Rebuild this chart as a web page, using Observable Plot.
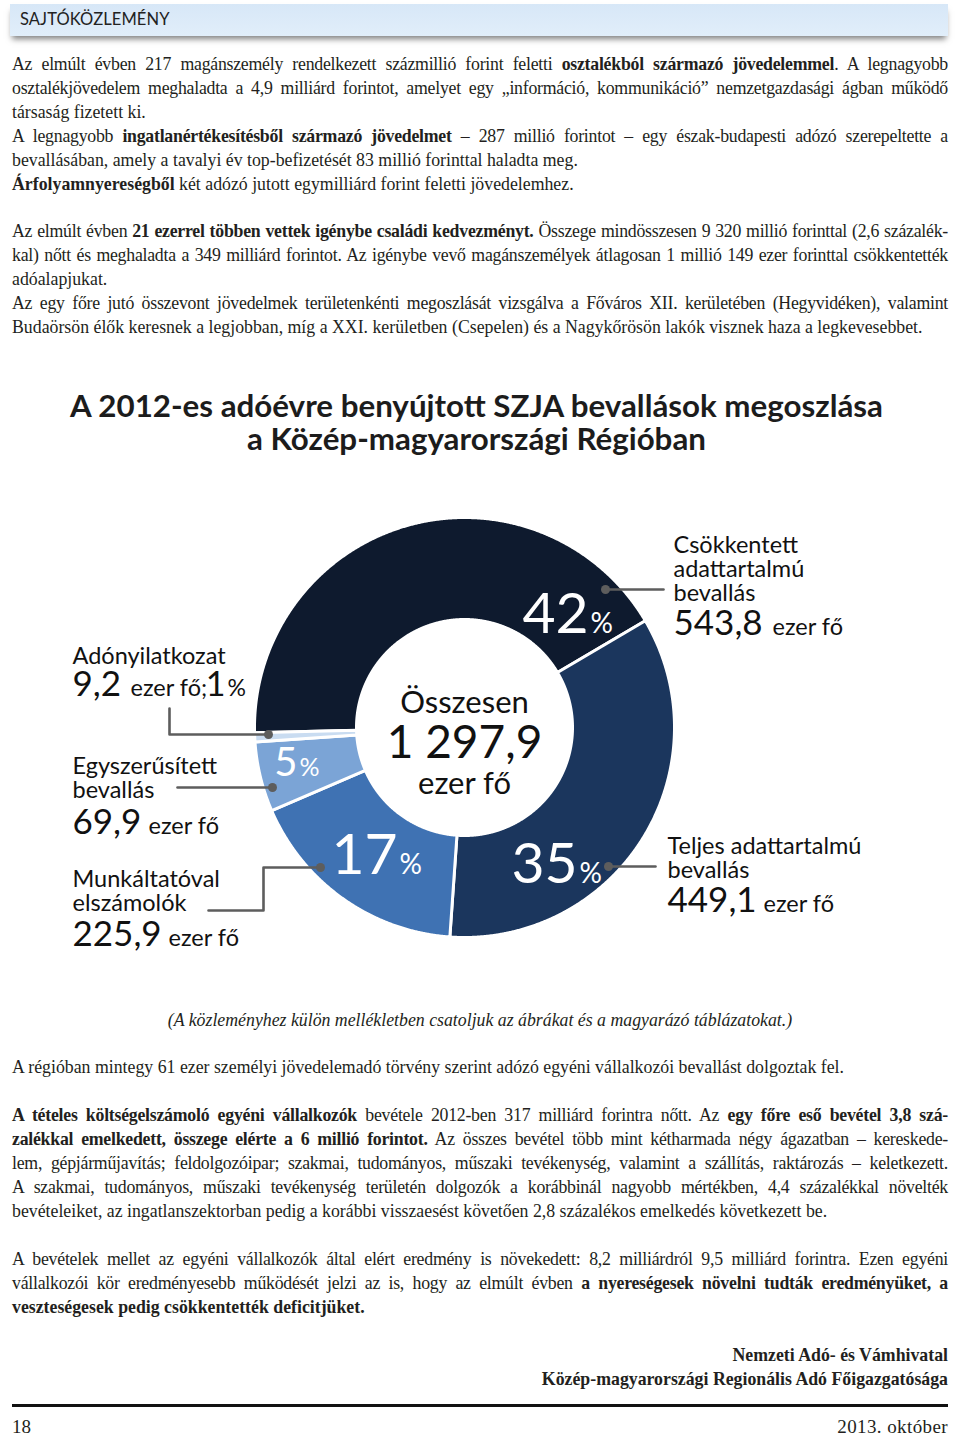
<!DOCTYPE html>
<html lang="hu">
<head>
<meta charset="utf-8">
<script src="https://cdn.jsdelivr.net/npm/d3@7"></script>
<script src="https://cdn.jsdelivr.net/npm/@observablehq/plot@0.6"></script>
<style>
  html, body { margin: 0; padding: 0; background: #fff; }
  #page { position: relative; width: 960px; height: 1436px; overflow: hidden; color: #231f20; }
  .hdr { position: absolute; left: 10px; top: 4px; width: 938px; height: 32px;
         background: linear-gradient(#d7e7f7, #e1eefa); box-shadow: 0 5px 6px -2px rgba(0,0,0,0.5); }
  .hdr span { position: absolute; left: 10px; top: 5px; font-family: Lato, sans-serif; font-size: 16.5px; color: #222; letter-spacing: 0.1px; }
  .blk { position: absolute; left: 12px; width: 936px; font-family: "Liberation Serif", serif; font-size: 17.8px; line-height: 24px; }
  .blk div { height: 24px; white-space: nowrap; }
  .blk div.j { text-align: justify; text-align-last: justify; letter-spacing: -0.25px; }
  .blk b { font-weight: bold; }
  .title { position: absolute; left: 0; width: 953px; top: 389px; text-align: center; font-family: Lato, sans-serif;
           font-weight: 700; font-size: 31.3px; line-height: 33px; color: #1c1c1c; }
  .rule { position: absolute; left: 12px; width: 936px; top: 1404px; height: 3px; background: #111; }
  .foot { position: absolute; top: 1414px; font-family: "Liberation Serif", serif; font-size: 19px; line-height: 26px; }
  #chart { position: absolute; left: 0; top: 480px; }
</style>
</head>
<body>
<div id="page">
  <div class="hdr"><span>SAJTÓKÖZLEMÉNY</span></div>

  <div class="blk" style="top:52px">
    <div class="j">Az elmúlt évben 217 magánszemély rendelkezett százmillió forint feletti <b>osztalékból származó jövedelemmel</b>. A legnagyobb</div>
    <div class="j">osztalékjövedelem meghaladta a 4,9 milliárd forintot, amelyet egy „információ, kommunikáció” nemzetgazdasági ágban működő</div>
    <div>társaság fizetett ki.</div>
    <div class="j">A legnagyobb <b>ingatlanértékesítésből származó jövedelmet</b> – 287 millió forintot – egy észak-budapesti adózó szerepeltette a</div>
    <div>bevallásában, amely a tavalyi év top-befizetését 83 millió forinttal haladta meg.</div>
    <div><b>Árfolyamnyereségből</b> két adózó jutott egymilliárd forint feletti jövedelemhez.</div>
  </div>

  <div class="blk" style="top:219px">
    <div class="j">Az elmúlt évben <b>21 ezerrel többen vettek igénybe családi kedvezményt.</b> Összege mindösszesen 9 320 millió forinttal (2,6 százalék-</div>
    <div class="j">kal) nőtt és meghaladta a 349 milliárd forintot. Az igénybe vevő magánszemélyek átlagosan 1 millió 149 ezer forinttal csökkentették</div>
    <div>adóalapjukat.</div>
    <div class="j">Az egy főre jutó összevont jövedelmek területenkénti megoszlását vizsgálva a Főváros XII. kerületében (Hegyvidéken), valamint</div>
    <div>Budaörsön élők keresnek a legjobban, míg a XXI. kerületben (Csepelen) és a Nagykőrösön lakók visznek haza a legkevesebbet.</div>
  </div>

  <div class="title">A 2012-es adóévre benyújtott SZJA bevallások megoszlása<br>a Közép-magyarországi Régióban</div>

  <div id="chart"></div>

  <div class="blk" style="top:1008px; text-align:center; font-style:italic;">
    <div>(A közleményhez külön mellékletben csatoljuk az ábrákat és a magyarázó táblázatokat.)</div>
  </div>

  <div class="blk" style="top:1055px">
    <div>A régióban mintegy 61 ezer személyi jövedelemadó törvény szerint adózó egyéni vállalkozói bevallást dolgoztak fel.</div>
    <div></div>
    <div class="j"><b>A tételes költségelszámoló egyéni vállalkozók</b> bevétele 2012-ben 317 milliárd forintra nőtt. Az <b>egy főre eső bevétel 3,8 szá-</b></div>
    <div class="j"><b>zalékkal emelkedett, összege elérte a 6 millió forintot.</b> Az összes bevétel több mint kétharmada négy ágazatban – kereskede-</div>
    <div class="j">lem, gépjárműjavítás; feldolgozóipar; szakmai, tudományos, műszaki tevékenység, valamint a szállítás, raktározás – keletkezett.</div>
    <div class="j">A szakmai, tudományos, műszaki tevékenység területén dolgozók a korábbinál nagyobb mértékben, 4,4 százalékkal növelték</div>
    <div>bevételeiket, az ingatlanszektorban pedig a korábbi visszaesést követően 2,8 százalékos emelkedés következett be.</div>
    <div></div>
    <div class="j">A bevételek mellet az egyéni vállalkozók által elért eredmény is növekedett: 8,2 milliárdról 9,5 milliárd forintra. Ezen egyéni</div>
    <div class="j">vállalkozói kör eredményesebb működését jelzi az is, hogy az elmúlt évben <b>a nyereségesek növelni tudták eredményüket, a</b></div>
    <div><b>veszteségesek pedig csökkentették deficitjüket.</b></div>
    <div></div>
    <div style="text-align:right"><b>Nemzeti Adó- és Vámhivatal</b></div>
    <div style="text-align:right"><b>Közép-magyarországi Regionális Adó Főigazgatósága</b></div>
  </div>

  <div class="rule"></div>
  <div class="foot" style="left:12px">18</div>
  <div class="foot" style="right:12px; letter-spacing:0.4px">2013. október</div>
</div>

<script>
// ---------------- DATA ----------------
const categories = [
  "Csökkentett adattartalmú bevallás",
  "Teljes adattartalmú bevallás",
  "Munkáltatóval elszámolók",
  "Egyszerűsített bevallás",
  "Adónyilatkozat"
];
const valuesEzerFo = [543.8, 449.1, 225.9, 69.9, 9.2];
const shareLabels = ["42", "35", "17", "5", "1"];
const labelLines = [
  ["Csökkentett", "adattartalmú", "bevallás"],
  ["Teljes adattartalmú", "bevallás"],
  ["Munkáltatóval", "elszámolók"],
  ["Egyszerűsített", "bevallás"],
  ["Adónyilatkozat"]
];
const totalLines = ["Összesen", "1 297,9", "ezer fő"];
const unitText = "ezer fő";
const sliceColors = ["#0e1a2e", "#1b365d", "#3f72b3", "#7ba4d6", "#c9dcf1"];

// ---------------- LAYOUT (page pixel coordinates) ----------------
const W = 960, H = 500, TOP = 480;
const CX = 464, CY = 727, R_OUT = 210, R_IN = 108;
const START = -91.4 * Math.PI / 180;
const LABEL_SIZE = 23.5, LABEL_LINE = 24;
const labelLayout = [
  {x: 673, lastY: 600, numY: 634, unitX: 772},
  {x: 667, lastY: 877, numY: 911, unitX: 763},
  {x: 72,  lastY: 910, numY: 945, unitX: 168},
  {x: 72,  lastY: 797, numY: 833, unitX: 148},
  {x: 72,  lastY: 663, numY: 695, unitX: 130}
];
const shareLayout = [
  {x: 588, y: 632, size: 57, pct: 28},
  {x: 577, y: 882, size: 57, pct: 28},
  {x: 397, y: 873, size: 57, pct: 28},
  {x: 297, y: 775, size: 40, pct: 25},
  {x: 225, y: 695, size: 34, pct: 23}
];
const leaderLayout = [
  [[605, 589], [663, 589]],
  [[608, 866], [655, 866]],
  [[320, 867], [263, 867], [263, 910], [208, 910]],
  [[272, 787], [177, 787]],
  [[268, 734], [169, 734], [169, 708]]
];
const totalLayout = [{y: 712, size: 31}, {y: 757, size: 46}, {y: 793, size: 31}];

// ---------------- BUILD ----------------
const rows = categories.map((c, i) => ({cat: c, value: valuesEzerFo[i]}));
const slices = d3.pie().sort(null).value(d => d.value)
  .startAngle(START).endAngle(START + 2 * Math.PI)(rows);

const ring = slices.flatMap(s => {
  const n = Math.max(2, Math.ceil((s.endAngle - s.startAngle) / 0.004));
  const pts = [];
  for (let i = 0; i <= n; i++) {
    const a = s.startAngle + (s.endAngle - s.startAngle) * i / n;
    pts.push({cat: s.data.cat, x: CX + R_OUT * Math.sin(a), y: CY - R_OUT * Math.cos(a)});
  }
  for (let i = n; i >= 0; i--) {
    const a = s.startAngle + (s.endAngle - s.startAngle) * i / n;
    pts.push({cat: s.data.cat, x: CX + R_IN * Math.sin(a), y: CY - R_IN * Math.cos(a)});
  }
  return pts;
});

const leaders = leaderLayout.flatMap((pts, i) => pts.map(([x, y]) => ({id: categories[i], x, y})));
const leaderDots = leaderLayout.map((pts, i) => ({id: categories[i], x: pts[0][0], y: pts[0][1]}));

const fmt = v => v.toFixed(1).replace(".", ",");

const catText = labelLines.map((lines, i) => ({text: lines.join("\n"), x: labelLayout[i].x, y: labelLayout[i].lastY}));
const numText = valuesEzerFo.map((v, i) => ({text: fmt(v), x: labelLayout[i].x, y: labelLayout[i].numY, size: 35}));
const unitTextRows = valuesEzerFo.map((v, i) => ({
  text: i === 4 ? unitText + ";" : unitText, x: labelLayout[i].unitX, y: labelLayout[i].numY, size: LABEL_SIZE}));

const shareNum = shareLabels.map((t, i) => ({text: t, x: shareLayout[i].x, y: shareLayout[i].y, size: shareLayout[i].size, white: i < 4}));
const sharePct = shareLabels.map((t, i) => ({text: "%", x: shareLayout[i].x + 2, y: shareLayout[i].y, size: shareLayout[i].pct, white: i < 4}));

const totalText = totalLines.map((t, i) => ({text: t, x: CX, y: totalLayout[i].y, size: totalLayout[i].size}));

const chart = Plot.plot({
  width: W,
  height: H,
  margin: 0,
  style: {fontFamily: "Lato, sans-serif", background: "transparent", overflow: "visible"},
  x: {domain: [0, W], range: [0, W], axis: null},
  y: {domain: [TOP, TOP + H], range: [0, H], axis: null},
  color: {domain: categories, range: sliceColors},
  marks: [
    Plot.line(ring, {x: "x", y: "y", z: "cat", fill: "cat", stroke: "#ffffff", strokeWidth: 3, curve: "linear-closed"}),
    Plot.line(leaders, {x: "x", y: "y", z: "id", stroke: "#5d5d5d", strokeWidth: 2.6}),
    Plot.dot(leaderDots, {x: "x", y: "y", r: 4.5, fill: "#5d5d5d"}),
    Plot.text(catText, {x: "x", y: "y", text: "text", fontSize: LABEL_SIZE, lineHeight: LABEL_LINE / LABEL_SIZE, textAnchor: "start", lineAnchor: "bottom", fill: "#111"}),
    Plot.text(numText, {x: "x", y: "y", text: "text", fontSize: "size", textAnchor: "start", lineAnchor: "bottom", fill: "#111"}),
    Plot.text(unitTextRows, {x: "x", y: "y", text: "text", fontSize: "size", textAnchor: "start", lineAnchor: "bottom", fill: "#111"}),
    Plot.text(shareNum.filter(d => d.white), {x: "x", y: "y", text: "text", fontSize: "size", textAnchor: "end", lineAnchor: "bottom", fill: "#ffffff"}),
    Plot.text(sharePct.filter(d => d.white), {x: "x", y: "y", text: "text", fontSize: "size", textAnchor: "start", lineAnchor: "bottom", fill: "#ffffff"}),
    Plot.text(shareNum.filter(d => !d.white), {x: "x", y: "y", text: "text", fontSize: "size", textAnchor: "end", lineAnchor: "bottom", fill: "#111"}),
    Plot.text(sharePct.filter(d => !d.white), {x: "x", y: "y", text: "text", fontSize: "size", textAnchor: "start", lineAnchor: "bottom", fill: "#111"}),
    Plot.text(totalText, {x: "x", y: "y", text: "text", fontSize: "size", textAnchor: "middle", lineAnchor: "bottom", fill: "#111"})
  ]
});
document.getElementById("chart").appendChild(chart);
</script>
</body>
</html>
